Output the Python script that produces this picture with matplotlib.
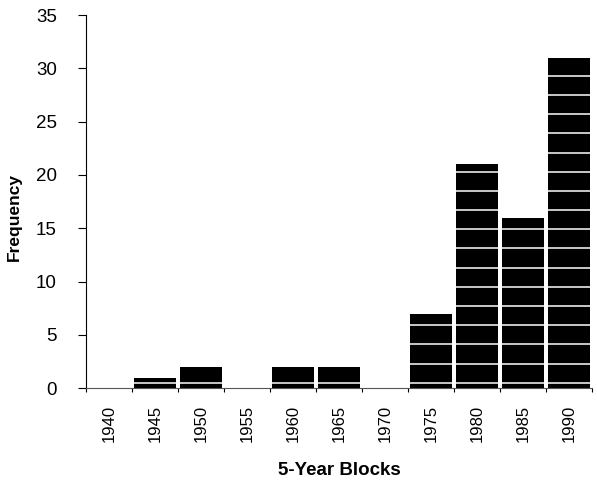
import numpy as np
import matplotlib
matplotlib.use("Agg")
import matplotlib.pyplot as plt
from matplotlib.ticker import FixedLocator

plt.rcParams['font.family'] = ['Liberation Sans', 'DejaVu Sans']

# data
blocks = ['1940', '1945', '1950', '1955', '1960', '1965', '1970', '1975', '1980', '1985', '1990']
freq = [0, 1, 2, 0, 2, 2, 0, 7, 21, 16, 31]


def main():
    fig = plt.figure(figsize=(5.97, 4.84), dpi=100)
    ax = fig.add_axes([0.144, 0.198, 0.848, 0.771])

    x = np.arange(len(blocks))
    ax.bar(x, freq, width=0.91, color='black', zorder=1)

    # white stripes across the bars, like the original print
    for yy in np.arange(0.5, 35, 1.8):
        ax.axhline(yy, color='white', lw=1.1, zorder=2)

    ax.set_xlim(-0.5, len(blocks) - 0.5)
    ax.set_ylim(0, 35)
    ax.set_yticks(np.arange(0, 36, 5))

    ax.set_xticks(x)
    ax.set_xticklabels(blocks, rotation=90, fontsize=12)
    ax.xaxis.set_minor_locator(FixedLocator(np.arange(-0.5, len(blocks), 1)))
    ax.tick_params(axis='x', which='major', length=0, pad=12)
    ax.tick_params(axis='x', which='minor', length=3, width=0.8, direction='out')
    ax.tick_params(axis='y', length=6, width=0.8, direction='out', pad=15, labelsize=13.5)

    for s in ['top', 'right']:
        ax.spines[s].set_visible(False)
    ax.spines['left'].set_linewidth(0.8)
    ax.spines['bottom'].set_linewidth(0.8)
    ax.spines['bottom'].set_color('#555555')

    ax.set_xlabel('5-Year Blocks', fontsize=13.5, fontweight='bold', labelpad=14)
    ax.set_ylabel('Frequency', fontsize=12.5, fontweight='bold')
    ax.yaxis.set_label_coords(-0.126, 0.458)

    fig.savefig('out.png', dpi=100)


if __name__ == "__main__":
    main()
